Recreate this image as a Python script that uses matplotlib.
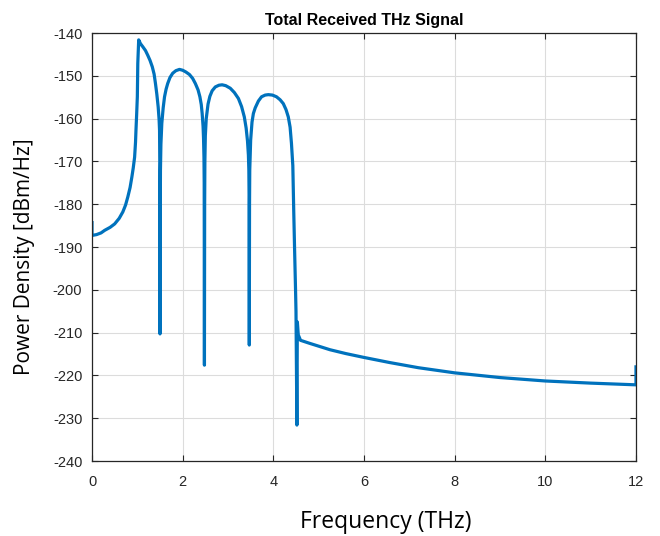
import numpy as np
import matplotlib.pyplot as plt

plt.rcParams['axes.unicode_minus'] = False

# values (frequency in THz, power in dBm/Hz)
freq_thz = [0.0, 0.0, 0.1, 0.2, 0.28, 0.4, 0.5, 0.6, 0.68, 0.74, 0.79, 0.84, 0.88, 0.91,
            0.94, 0.96, 0.97, 0.985, 1.0, 1.01, 1.03,
            1.07, 1.12, 1.18, 1.23, 1.28, 1.33, 1.37, 1.40, 1.43, 1.46, 1.48, 1.49, 1.495, 1.5,
            1.505, 1.51, 1.52, 1.54, 1.57, 1.6, 1.635, 1.67, 1.72, 1.78, 1.85, 1.93, 2.0,
            2.07, 2.15, 2.22, 2.28, 2.34, 2.38, 2.41, 2.43, 2.45, 2.46, 2.47, 2.475, 2.48,
            2.485, 2.49, 2.5, 2.52, 2.56, 2.6, 2.65, 2.72, 2.8, 2.87, 2.95, 3.05, 3.14,
            3.23, 3.3, 3.36, 3.4, 3.43, 3.45, 3.46, 3.465, 3.47,
            3.475, 3.48, 3.5, 3.53, 3.56, 3.6, 3.67, 3.74, 3.82, 3.89, 3.98, 4.07, 4.15,
            4.22, 4.28, 4.33, 4.37, 4.40, 4.43, 4.45, 4.47, 4.49, 4.5, 4.52,
            4.53, 4.55, 4.6, 4.8, 5.25, 5.6, 6.0, 6.57, 7.2, 8.0, 9.0, 10.0, 11.0, 12.0, 12.0]
power_dbm = [-184.3, -187.3, -187.1, -186.7, -186.1, -185.4, -184.6, -183.3, -181.8, -180.2,
             -178.3, -176.1, -173.6, -171.5, -169.0, -165.5, -162.7, -159.0, -154.9, -147.1,
             -141.6,
             -142.5, -143.2, -144.1, -145.2, -146.4, -147.9, -149.6, -151.8, -154.3, -157.3,
             -160.2, -162.7, -170.0, -210.3,
             -185.0, -172.0, -166.0, -161.1, -157.5, -154.9, -153.1, -151.8, -150.4, -149.4,
             -148.8, -148.5, -148.7, -149.1, -149.7, -150.6, -151.8, -153.3, -154.9, -156.7,
             -158.8, -161.8, -164.5, -169.0, -175.0, -217.6,
             -180.0, -170.0, -164.0, -160.0, -156.6, -154.8, -153.5, -152.6, -152.2, -152.1,
             -152.3, -152.9, -153.9, -155.3, -157.2, -159.6, -162.2, -165.2, -168.5, -172.0,
             -178.0, -212.9,
             -180.0, -172.0, -165.0, -160.8, -158.8, -157.5, -155.9, -154.9, -154.5, -154.4,
             -154.5, -154.9, -155.6, -156.5, -157.9, -159.6, -162.0, -165.8, -171.0, -181.5,
             -191.0, -200.0, -205.0, -231.6,
             -207.5, -210.5, -211.8, -212.5, -214.0, -214.9, -215.8, -217.0, -218.2, -219.4,
             -220.5, -221.3, -221.8, -222.2, -218.0]

xticks = [0, 2, 4, 6, 8, 10, 12]
yticks = [-140, -150, -160, -170, -180, -190, -200, -210, -220, -230, -240]

fig = plt.figure(figsize=(6.6, 5.36), dpi=100)
ax = fig.add_axes([0.1394, 0.1399, 0.8242, 0.7985])

ax.plot(freq_thz, power_dbm, color='#0072BD', lw=2.3, solid_joinstyle='round')

ax.set_xlim(0, 12)
ax.set_ylim(-240, -140)
ax.set_xticks(xticks)
ax.set_yticks(yticks)
ax.grid(True, color='#dcdcdc', lw=0.8)
ax.set_axisbelow(True)
ax.tick_params(direction='in', top=True, right=True, length=4, width=0.8,
               labelsize=10.5, colors='#262626')
ax.tick_params(axis='x', pad=10)
ax.tick_params(axis='y', pad=7)
for s in ax.spines.values():
    s.set_color('#262626')
    s.set_linewidth(0.9)

ax.set_title('Total Received THz Signal', fontsize=11.5, fontweight='bold',
             family='Liberation Sans', pad=6)
ax.set_xlabel('Frequency (THz)', fontsize=16.5, family='Open Sans')
ax.set_ylabel('Power Density [dBm/Hz]', fontsize=15, family='Open Sans')
ax.xaxis.set_label_coords(0.54, -0.115)
ax.yaxis.set_label_coords(-0.105, 0.477)
for lab in ax.get_xticklabels() + ax.get_yticklabels():
    lab.set_family('Liberation Sans')

fig.savefig('out.png', dpi=100)
